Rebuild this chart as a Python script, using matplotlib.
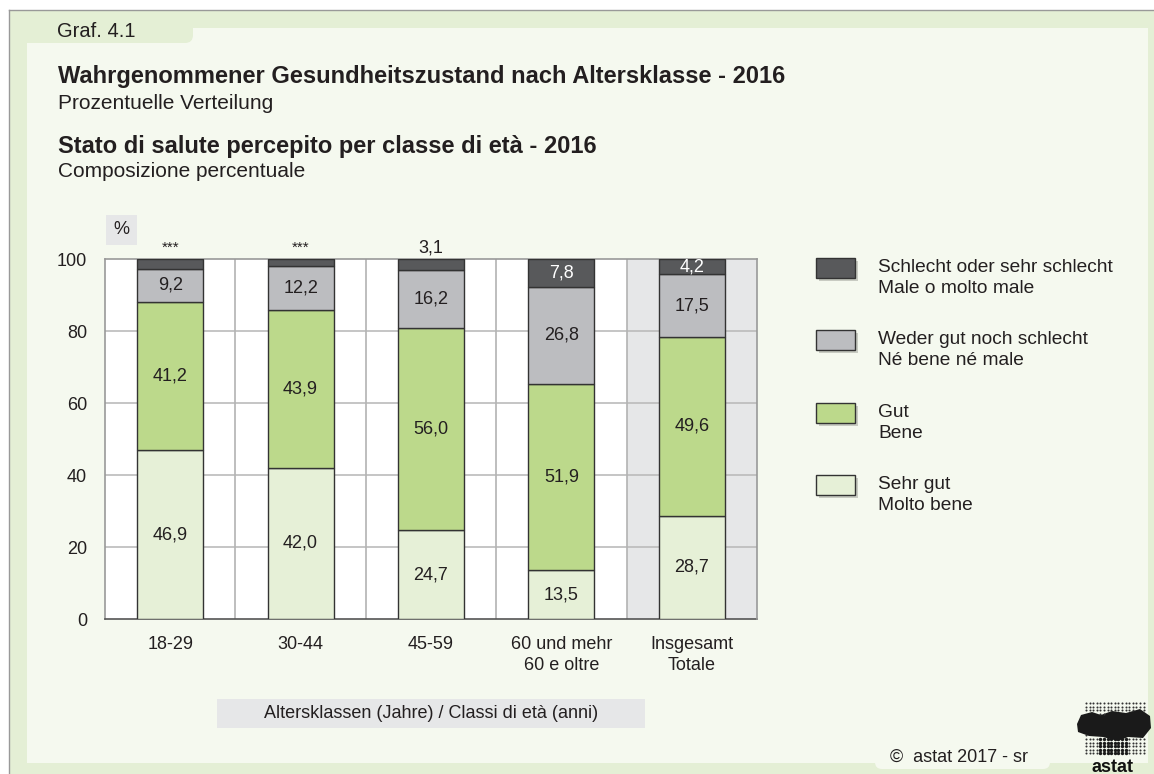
import numpy as np
import matplotlib
matplotlib.use('Agg')
import matplotlib.pyplot as plt
from matplotlib.patches import Rectangle, FancyBboxPatch, Polygon
from matplotlib.path import Path as MPath

plt.rcParams['font.family'] = ['Liberation Sans', 'DejaVu Sans']

# Daten (Prozent)
categories = ['18-29', '30-44', '45-59', '60 und mehr\n60 e oltre', 'Insgesamt\nTotale']
sehr_gut = [46.9, 42.0, 24.7, 13.5, 28.7]
gut = [41.2, 43.9, 56.0, 51.9, 49.6]
weder = [9.2, 12.2, 16.2, 26.8, 17.5]
schlecht = [2.7, 1.9, 3.1, 7.8, 4.2]
schlecht_labels = ['***', '***', '3,1', '7,8', '4,2']
schlecht_inside = [False, False, False, True, True]

series = [sehr_gut, gut, weder, schlecht]
series_names = [
    'Sehr gut\nMolto bene',
    'Gut\nBene',
    'Weder gut noch schlecht\nNé bene né male',
    'Schlecht oder sehr schlecht\nMale o molto male',
]
colors = ['#e6f0d7', '#bcd98b', '#bcbdc0', '#58595b']
TXT = '#231f20'

W, H = 1154, 774
fig = plt.figure(figsize=(W / 100, H / 100), dpi=100, facecolor='white')

# Hintergrund in Pixelkoordinaten
bg = fig.add_axes([0, 0, 1, 1], zorder=-1)
bg.set_xlim(0, W)
bg.set_ylim(H, 0)
bg.axis('off')

green = '#e4efd5'
light = '#f5f9ef'
bg.add_patch(Rectangle((9, 10), W - 9, H - 10, color=green, lw=0))
bg.add_patch(Rectangle((27, 28), 1121, 735, color=light, lw=0))
bg.add_patch(FancyBboxPatch((15, 12), 178, 31, boxstyle='round,pad=0,rounding_size=8',
                            color=green, lw=0))
bg.add_patch(FancyBboxPatch((875, 735), 175, 34, boxstyle='round,pad=0,rounding_size=7',
                            color=light, lw=0))
bg.plot([9, W], [10, 10], color='#999999', lw=1)
bg.plot([9, 9], [10, H], color='#999999', lw=1)

bg.text(57, 37, 'Graf. 4.1', fontsize=14.5, color=TXT, va='baseline')
bg.text(58, 83, 'Wahrgenommener Gesundheitszustand nach Altersklasse - 2016',
        fontsize=17, fontweight='bold', color=TXT, va='baseline')
bg.text(58, 109, 'Prozentuelle Verteilung', fontsize=15, color=TXT, va='baseline')
bg.text(58, 153, 'Stato di salute percepito per classe di età - 2016',
        fontsize=17, fontweight='bold', color=TXT, va='baseline')
bg.text(58, 177, 'Composizione percentuale', fontsize=15, color=TXT, va='baseline')

# %-Box
bg.add_patch(Rectangle((106, 215), 31, 30, color='#e6e7e8', lw=0))
bg.text(121.5, 230, '%', fontsize=13, color=TXT, ha='center', va='center')

# Achsentitel-Box
bg.add_patch(Rectangle((217, 699), 428, 29, color='#e6e7e8', lw=0))
bg.text(431, 714, 'Altersklassen (Jahre) / Classi di età (anni)', fontsize=13,
        color=TXT, ha='center', va='center')

bg.text(890, 757, '©  astat 2017 - sr', fontsize=13, color=TXT, va='center')

# Legende (oben: Schlecht ... unten: Sehr gut)
for i, k in enumerate(range(len(series) - 1, -1, -1)):
    y0 = 258 + i * 72.3
    bg.add_patch(Rectangle((819, y0 + 3), 39, 20, color='#b5b8b0', lw=0, alpha=0.7))
    bg.add_patch(Rectangle((816, y0), 39, 20, facecolor=colors[k], edgecolor='#333333', lw=1))
    line1, line2 = series_names[k].split('\n')
    bg.text(878, y0 + 14, line1, fontsize=13.8, color=TXT, va='baseline')
    bg.text(878, y0 + 35, line2, fontsize=13.8, color=TXT, va='baseline')

# Logo (Punktraster mit Umriss)
blob = [(1077, 724), (1081, 715), (1092, 712), (1101, 715), (1112, 711), (1126, 713),
        (1140, 709), (1150, 716), (1151, 728), (1143, 738), (1128, 737), (1118, 741),
        (1103, 737), (1089, 736), (1078, 732)]
bg.add_patch(Polygon(blob, closed=True, color='#1a1a1a', lw=0))
gx, gy = np.meshgrid(np.arange(1086, 1144, 3.6), np.arange(703, 757, 3.6))
gx, gy = gx.ravel(), gy.ravel()
inside = MPath(blob).contains_points(np.column_stack([gx, gy]))
stem = (gy > 738) & (np.abs(gx - 1112) < 14)
bg.scatter(gx[~inside & ~stem], gy[~inside & ~stem], s=2.2, color='#333333', lw=0)
bg.scatter(gx[stem], gy[stem], s=6, color='#1a1a1a', lw=0)
bg.text(1113, 772, 'astat', fontsize=13, fontweight='bold', color='#111111',
        ha='center', va='baseline')

# Diagramm
ax = fig.add_axes([105 / W, (H - 619) / H, 652 / W, 360 / H], facecolor='white')
x = np.arange(len(categories))
ax.set_xlim(-0.5, len(categories) - 0.5)
ax.set_ylim(0, 100)
ax.axvspan(3.5, 4.5, color='#e6e7e8', zorder=0, lw=0)
for yv in [20, 40, 60, 80]:
    ax.axhline(yv, color='#bbbbbb', lw=1.2, zorder=1)
for xv in x[:-1] + 0.5:
    ax.axvline(xv, color='#b3b3b3', lw=1.2, zorder=1)

bottom = np.zeros(len(categories))
for k, vals in enumerate(series):
    vals = np.array(vals)
    ax.bar(x, vals, width=0.505, bottom=bottom, color=colors[k], edgecolor='#333333',
           lw=1, zorder=3)
    for i, v in enumerate(vals):
        yc = bottom[i] + v / 2
        if k < 3:
            ax.text(x[i], yc, f'{v:.1f}'.replace('.', ','), ha='center', va='center',
                    fontsize=13, color=TXT, zorder=4)
        elif schlecht_inside[i]:
            ax.text(x[i], yc, schlecht_labels[i], ha='center', va='center',
                    fontsize=13, color='white', zorder=4)
        else:
            star = schlecht_labels[i] == '***'
            ax.annotate(schlecht_labels[i], (x[i], 100), xytext=(0, 8),
                        textcoords='offset points', ha='center', va='center',
                        fontsize=11 if star else 13, color=TXT)
    bottom += vals

ax.set_yticks([0, 20, 40, 60, 80, 100])
ax.set_xticks(x)
ax.set_xticklabels(categories, linespacing=1.3)
ax.tick_params(axis='both', length=0, labelsize=13, labelcolor=TXT)
ax.tick_params(axis='y', pad=13)
ax.tick_params(axis='x', pad=12)
for s in ['left', 'top', 'right']:
    ax.spines[s].set_color('#999999')
    ax.spines[s].set_linewidth(1.2)
ax.spines['bottom'].set_color('#555555')
ax.spines['bottom'].set_linewidth(1.2)
ax.spines['right'].set_zorder(5)

fig.savefig('out.png', dpi=100, facecolor=fig.get_facecolor())
